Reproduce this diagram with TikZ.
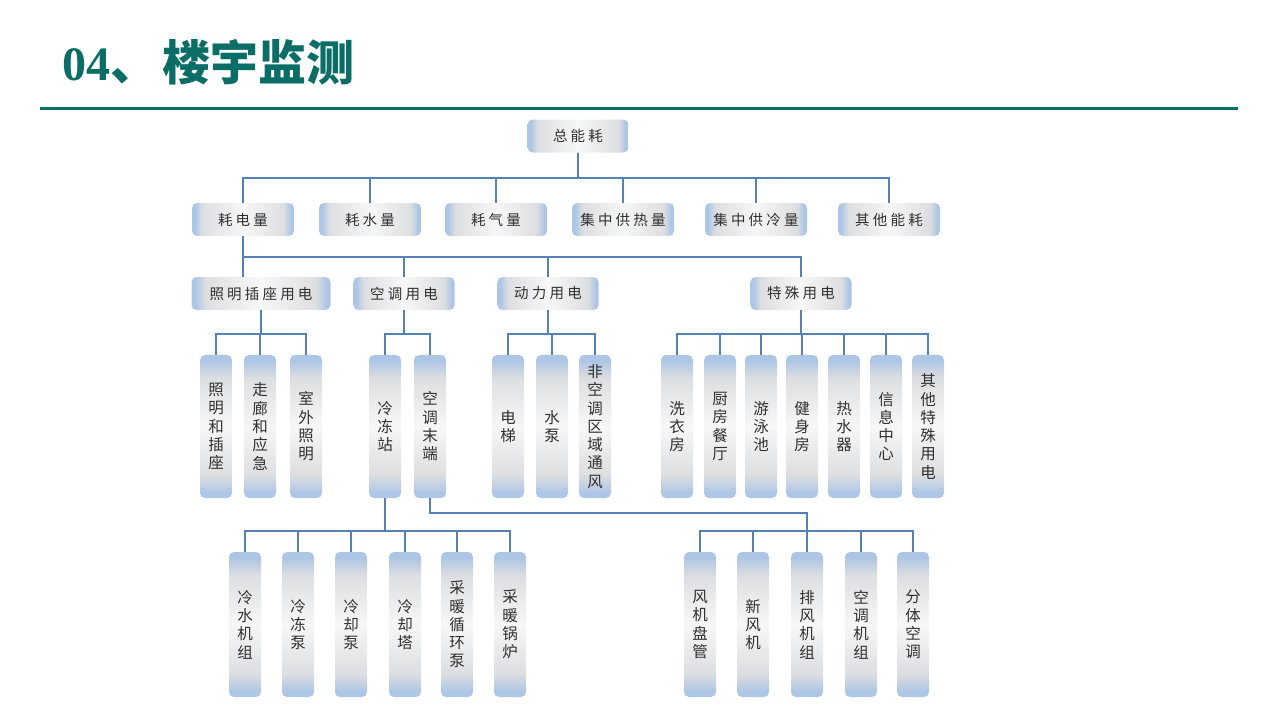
\documentclass[tikz,border=0pt]{standalone}
\usepackage{fontspec}
\setmainfont{Liberation Serif}
\newfontfamily\cjk{Noto Sans CJK SC}
\newfontfamily\cjksp[LetterSpace=22]{Noto Sans CJK SC}
\definecolor{nb}{HTML}{AEC6E5}
\definecolor{ng}{HTML}{DCDEE1}
\definecolor{nw}{HTML}{F7F7F7}
\definecolor{tc}{HTML}{0A6E66}
\definecolor{lc}{HTML}{5582B3}
\definecolor{tx}{HTML}{303030}
\pgfdeclarehorizontalshading{hnode}{100bp}{color(0bp)=(nb); color(25bp)=(nb); color(26.5bp)=(nb); color(30bp)=(ng); color(50bp)=(nw); color(70bp)=(ng); color(73.5bp)=(nb); color(75bp)=(nb); color(100bp)=(nb)}
\pgfdeclareverticalshading{vnode}{100bp}{color(0bp)=(nb); color(25bp)=(nb); color(27bp)=(nb); color(33bp)=(ng); color(50bp)=(nw); color(67bp)=(ng); color(73bp)=(nb); color(75bp)=(nb); color(100bp)=(nb)}
\tikzset{
  hbox/.style={rectangle, rounded corners=5pt, shading=hnode, minimum height=33pt, inner sep=0pt, font=\cjksp\fontsize{14.5}{16}\selectfont, text=tx},
  vbox/.style={rectangle, rounded corners=5pt, shading=vnode, minimum width=32pt, inner sep=0pt, align=center, font=\cjk\fontsize{15.5}{18.3}\selectfont, text=tx},
  lv4/.style={vbox, minimum height=143pt},
  lv5/.style={vbox, minimum height=145pt},
  conn/.style={draw=lc, line width=2pt}
}
\begin{document}
\begin{tikzpicture}[x=1pt,y=-1pt]
\useasboundingbox (0,0) rectangle (1280,720);
% title
\node[anchor=base west, inner sep=0pt, text=tc, font=\fontsize{48}{50}\selectfont\bfseries] (title) at (62,80) {04{\cjk\bfseries 、\hspace{4pt}楼宇监测}};
\draw[tc, line width=3pt] (40,108) -- (1238,108);
% level 1
\node[hbox, minimum width=101pt] (root) at (578,136) {总能耗};
% level 2
\node[hbox, minimum width=102pt] (e1) at (243,219.5) {耗电量};
\node[hbox, minimum width=102pt] (e2) at (370,219.5) {耗水量};
\node[hbox, minimum width=102pt] (e3) at (496,219.5) {耗气量};
\node[hbox, minimum width=102pt] (e4) at (623,219.5) {集中供热量};
\node[hbox, minimum width=102pt] (e5) at (756,219.5) {集中供冷量};
\node[hbox, minimum width=102pt] (e6) at (889,219.5) {其他能耗};
% level 3
\node[hbox, minimum width=139pt] (zmyd) at (261,293.5) {照明插座用电};
\node[hbox, minimum width=101pt] (ktyd) at (404,293.5) {空调用电};
\node[hbox, minimum width=101pt] (dlyd) at (548,293.5) {动力用电};
\node[hbox, minimum width=101pt] (tsyd) at (801,293.5) {特殊用电};
% level 4
\node[lv4] (zm1) at (216,426.5) {照\\明\\和\\插\\座};
\node[lv4] (zm2) at (260,426.5) {走\\廊\\和\\应\\急};
\node[lv4] (zm3) at (306,426.5) {室\\外\\照\\明};
\node[lv4] (kt1) at (385,426.5) {冷\\冻\\站};
\node[lv4] (kt2) at (430,426.5) {空\\调\\末\\端};
\node[lv4] (dl1) at (508,426.5) {电\\梯};
\node[lv4] (dl2) at (552,426.5) {水\\泵};
\node[lv4] (dl3) at (595,426.5) {非\\空\\调\\区\\域\\通\\风};
\node[lv4] (ts1) at (677,426.5) {洗\\衣\\房};
\node[lv4] (ts2) at (720,426.5) {厨\\房\\餐\\厅};
\node[lv4] (ts3) at (761,426.5) {游\\泳\\池};
\node[lv4] (ts4) at (802,426.5) {健\\身\\房};
\node[lv4] (ts5) at (844,426.5) {热\\水\\器};
\node[lv4] (ts6) at (886,426.5) {信\\息\\中\\心};
\node[lv4] (ts7) at (928,426.5) {其\\他\\特\\殊\\用\\电};
% level 5
\node[lv5] (l1) at (245,624.5) {冷\\水\\机\\组};
\node[lv5] (l2) at (298,624.5) {冷\\冻\\泵};
\node[lv5] (l3) at (351,624.5) {冷\\却\\泵};
\node[lv5] (l4) at (405,624.5) {冷\\却\\塔};
\node[lv5] (l5) at (457,624.5) {采\\暖\\循\\环\\泵};
\node[lv5] (l6) at (510,624.5) {采\\暖\\锅\\炉};
\node[lv5] (m1) at (700,624.5) {风\\机\\盘\\管};
\node[lv5] (m2) at (753,624.5) {新\\风\\机};
\node[lv5] (m3) at (807,624.5) {排\\风\\机\\组};
\node[lv5] (m4) at (861,624.5) {空\\调\\机\\组};
\node[lv5] (m5) at (913,624.5) {分\\体\\空\\调};
% bus levels
\coordinate (y1) at (0,178);
\coordinate (y2) at (0,257);
\coordinate (y3) at (0,334);
\coordinate (y4) at (0,531);
\coordinate (y5) at (0,513);
% connectors
\foreach \c in {e1,e2,e3,e4,e5,e6}
  \draw[conn] (root.south) -- (root.south |- y1) -| (\c.north);
\draw[conn] (e1.south) -- (e1.south |- zmyd.north);
\foreach \c in {ktyd,dlyd,tsyd}
  \draw[conn] (e1.south) -- (e1.south |- y2) -| (\c.north);
\foreach \c in {zm1,zm2,zm3}
  \draw[conn] (zmyd.south) -- (zmyd.south |- y3) -| (\c.north);
\foreach \c in {kt1,kt2}
  \draw[conn] (ktyd.south) -- (ktyd.south |- y3) -| (\c.north);
\foreach \c in {dl1,dl2,dl3}
  \draw[conn] (dlyd.south) -- (dlyd.south |- y3) -| (\c.north);
\foreach \c in {ts1,ts2,ts3,ts4,ts5,ts6,ts7}
  \draw[conn] (tsyd.south) -- (tsyd.south |- y3) -| (\c.north);
\foreach \c in {l1,l2,l3,l4,l5,l6}
  \draw[conn] (kt1.south) -- (kt1.south |- y4) -| (\c.north);
\draw[conn] (kt2.south) -- (kt2.south |- y5) -| (m3.north);
\foreach \c in {m1,m2,m4,m5}
  \draw[conn] (m3.north |- y4) -| (\c.north);
\end{tikzpicture}
\end{document}
